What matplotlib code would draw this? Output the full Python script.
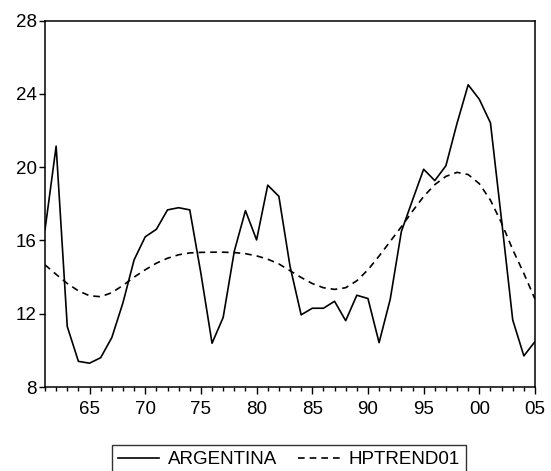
import numpy as np
import matplotlib
matplotlib.use("Agg")
import matplotlib.pyplot as plt
from matplotlib.ticker import MultipleLocator

years = np.arange(1961, 2006)

argentina = [16.58, 21.15, 11.3, 9.4, 9.3, 9.6, 10.7, 12.6, 14.94, 16.2,
             16.61, 17.67, 17.79, 17.67, 14.2, 10.39, 11.8, 15.42, 17.63, 16.03,
             19.02, 18.41, 14.6, 11.94, 12.3, 12.3, 12.68, 11.62, 13.01, 12.83,
             10.42, 12.79, 16.49, 18.2, 19.89, 19.27, 20.08, 22.4, 24.5, 23.71,
             22.42, 17.1, 11.66, 9.7, 10.48]

hptrend01 = [14.67, 14.15, 13.65, 13.25, 12.98, 12.93, 13.15, 13.55, 14.0, 14.4,
             14.76, 15.03, 15.22, 15.32, 15.35, 15.36, 15.36, 15.34, 15.28, 15.16,
             14.98, 14.72, 14.35, 13.98, 13.65, 13.42, 13.33, 13.42, 13.8, 14.4,
             15.15, 15.95, 16.75, 17.6, 18.4, 19.05, 19.5, 19.72, 19.6, 19.1,
             18.2, 16.95, 15.5, 14.2, 12.8]

x_ticks = list(range(1965, 2006, 5))
x_labels = ["65", "70", "75", "80", "85", "90", "95", "00", "05"]
y_ticks = [8, 12, 16, 20, 24, 28]

plt.rcParams["font.family"] = ["Liberation Sans", "DejaVu Sans"]

fig = plt.figure(figsize=(5.51, 4.71), dpi=100)
ax = fig.add_axes([45 / 551, 1 - 387 / 471, 490 / 551, 366.3 / 471])

ax.plot(years, argentina, color="black", lw=1.2, label="ARGENTINA")
ax.plot(years, hptrend01, color="black", lw=1.2, linestyle=(0, (4, 3)),
        label="HPTREND01")

ax.set_xlim(1961, 2005)
ax.set_ylim(8, 28)
ax.set_xticks(x_ticks)
ax.set_xticklabels(x_labels)
ax.xaxis.set_minor_locator(MultipleLocator(1))
ax.set_yticks(y_ticks)

ax.tick_params(axis="x", which="major", length=5, width=1, direction="out",
               pad=5, labelsize=13.5)
ax.tick_params(axis="x", which="minor", length=3, width=1, direction="out")
ax.tick_params(axis="y", which="major", length=4, width=1, direction="out",
               pad=2, labelsize=13.5)
for s in ax.spines.values():
    s.set_linewidth(1.1)

leg = fig.legend(loc="upper center", bbox_to_anchor=(289 / 551, 1 - 436 / 471),
                 ncol=2, frameon=True, fancybox=False, edgecolor="black",
                 handlelength=2.2, columnspacing=1.1, handletextpad=0.5,
                 borderpad=0.3, fontsize=13.5)
leg.get_frame().set_linewidth(1.0)

fig.savefig("out.png", dpi=100)
